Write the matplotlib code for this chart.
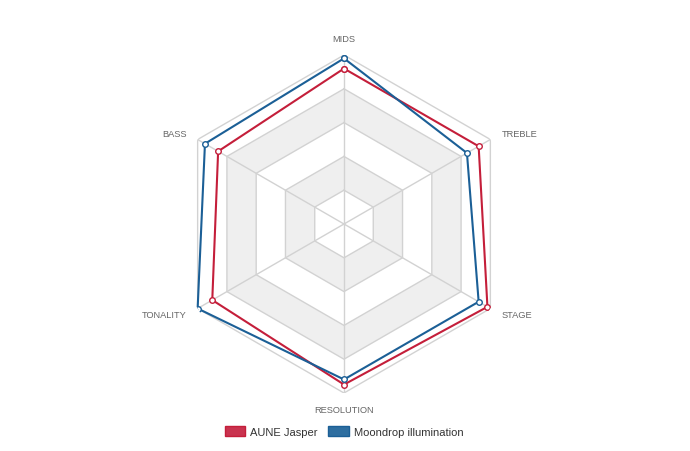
import numpy as np
import matplotlib
matplotlib.use("Agg")
import matplotlib.pyplot as plt
from matplotlib.patches import Patch

# radar data (scale 0-10), clockwise from top
labels = ["MIDS", "TREBLE", "STAGE", "RESOLUTION", "TONALITY", "BASS"]
aune = [9.2, 9.2, 9.8, 9.5, 9.0, 8.6]
moondrop = [9.8, 8.4, 9.2, 9.2, 10.0, 9.5]
series_names = ["AUNE Jasper", "Moondrop illumination"]
ring_levels = [2, 4, 6, 8, 10]

red = "#c41e3a"
red_fill = "#c9334f"
blue = "#1b5f96"
blue_fill = "#2e6ea0"

plt.rcParams["font.family"] = ["Liberation Sans", "DejaVu Sans"]

fig = plt.figure(figsize=(6.9, 4.52), dpi=100)
ax = fig.add_axes([0.2536, 0.1283, 0.4899, 0.7478], projection="polar")
ax.set_theta_offset(np.pi / 2)
ax.set_theta_direction(-1)
ax.set_ylim(0, 10)
ax.grid(False)
ax.set_xticks([])
ax.set_yticks([])
ax.spines["polar"].set_visible(False)
ax.patch.set_alpha(0)

n = len(labels)
theta = np.arange(n) * 2 * np.pi / n
theta_c = np.append(theta, theta[0])

# alternating bands (grey between 2-4 and 6-8)
for i, lev in enumerate(reversed(ring_levels)):
    col = "white" if i % 2 == 0 else "#efefef"
    ax.fill(theta_c, [lev] * (n + 1), color=col, lw=0, zorder=1)

# ring lines
for lev in ring_levels:
    ax.plot(theta_c, [lev] * (n + 1), color="#d2d2d2", lw=1, zorder=2)
# spokes
for t in theta:
    ax.plot([t, t], [0, ring_levels[-1]], color="#d2d2d2", lw=1, zorder=2)

# series
for vals, col in [(aune, red), (moondrop, blue)]:
    v = np.append(vals, vals[0])
    ax.plot(theta_c, v, color=col, lw=1.5, zorder=4,
            marker="o", ms=4, mfc="white", mec=col, mew=1)

# axis labels
for t, lab in zip(theta, labels):
    s = np.sin(t)
    if abs(s) < 0.01:
        ha = "center"
    elif s > 0:
        ha = "left"
    else:
        ha = "right"
    r = 11.0 if ha == "center" else 10.75
    ax.text(t, r, lab, ha=ha, va="center", fontsize=6.7, color="#666666",
            zorder=5, clip_on=False)

handles = [Patch(facecolor=red_fill, edgecolor=red, lw=1),
           Patch(facecolor=blue_fill, edgecolor=blue, lw=1)]
fig.legend(handles, series_names, loc="center", bbox_to_anchor=(0.4985, 0.043),
           ncol=2, frameon=False, fontsize=8, handlelength=1.85,
           handleheight=0.95, handletextpad=0.45, columnspacing=0.95,
           labelcolor="#333333")

fig.savefig("out.png", dpi=100)
